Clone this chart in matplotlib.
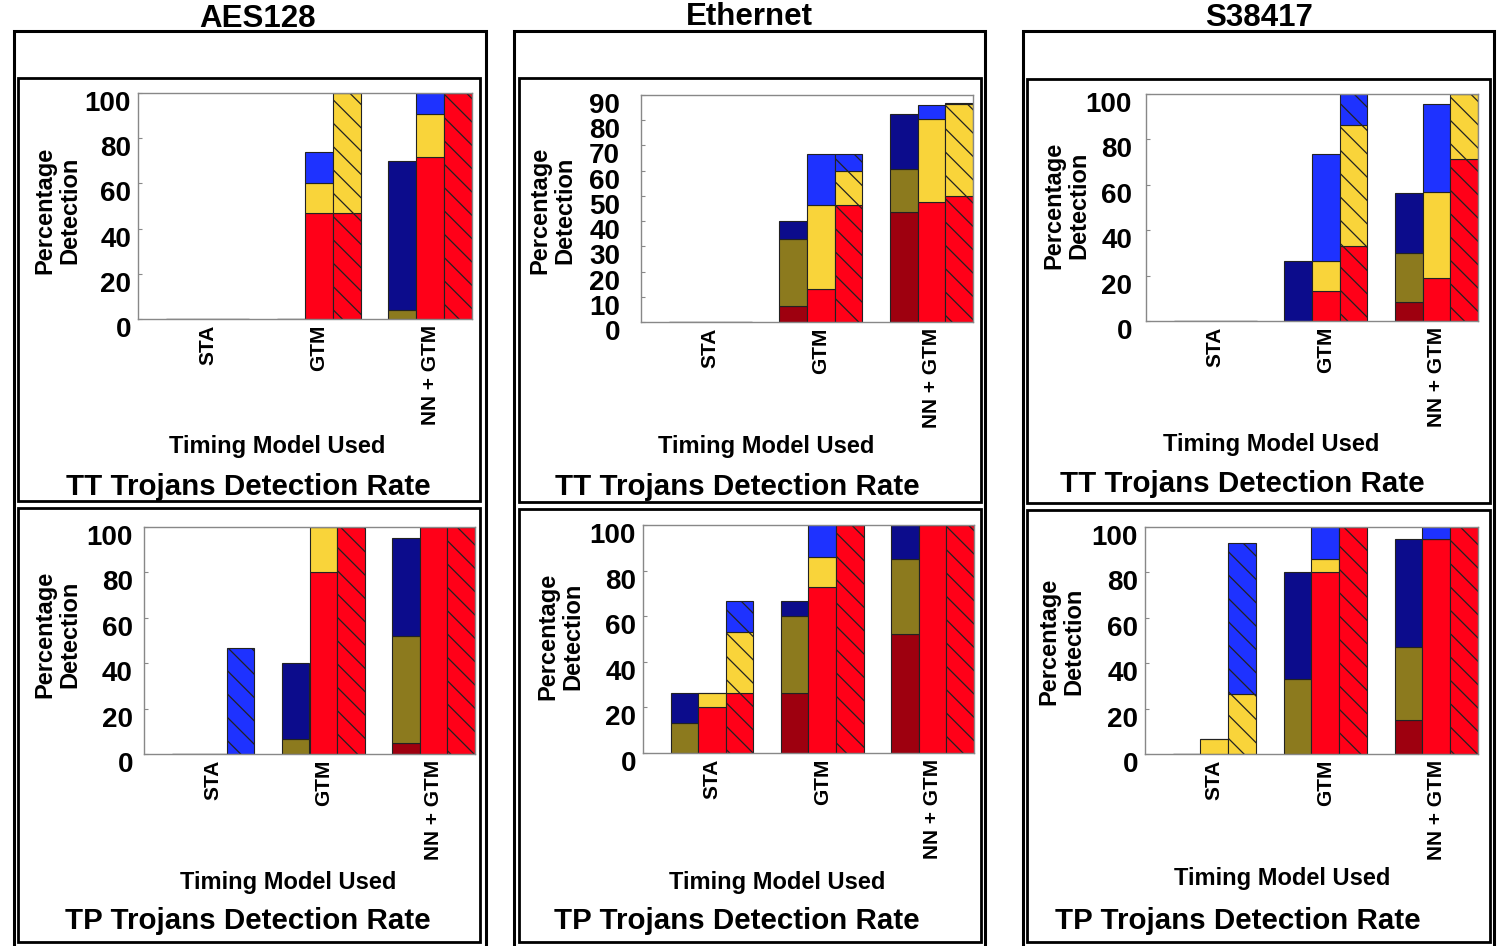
import numpy as np
import matplotlib
matplotlib.use("Agg")
import matplotlib.pyplot as plt
from matplotlib.patches import Rectangle
from matplotlib.transforms import ScaledTranslation

W, H = 1504, 946
DPI = 140
PT = 100 / DPI  # sizes below are written as if dpi were 100

plt.rcParams['font.family'] = ['Liberation Sans', 'DejaVu Sans']
plt.rcParams['font.weight'] = 'bold'
plt.rcParams['hatch.linewidth'] = 0.9 * PT

groups = ["STA", "GTM", "NN + GTM"]
designs = ["AES128", "Ethernet", "S38417"]

# cumulative tops of each stack per group: [red part, gold part, blue part]
aes_tt_dark = [[0, 0, 0], [0, 0, 0], [0, 4, 70]]
aes_tt_solid = [[0, 0, 0], [47, 60, 74], [71.5, 90.5, 100]]
aes_tt_hatch = [[0, 0, 0], [47, 100, 100], [100, 100, 100]]

eth_tt_dark = [[0, 0, 0], [6.5, 33, 40], [43.5, 60.5, 82.5]]
eth_tt_solid = [[0, 0, 0], [13, 46.5, 66.5], [47.5, 80.5, 86]]
eth_tt_hatch = [[0, 0, 0], [46.5, 60, 66.5], [50, 86.5, 87]]

s38_tt_dark = [[0, 0, 0], [0, 0, 26.5], [8.5, 30, 56.5]]
s38_tt_solid = [[0, 0, 0], [13, 26.5, 73.5], [19, 57, 95.5]]
s38_tt_hatch = [[0, 0, 0], [33, 86.5, 100], [71.5, 100, 100]]

aes_tp_dark = [[0, 0, 0], [0, 6.5, 40], [5, 52, 95]]
aes_tp_solid = [[0, 0, 0], [80, 100, 100], [100, 100, 100]]
aes_tp_hatch = [[0, 0, 46.5], [100, 100, 100], [100, 100, 100]]

eth_tp_dark = [[0, 13, 26.5], [26.5, 60, 66.5], [52, 85, 100]]
eth_tp_solid = [[20, 26.5, 26.5], [73, 86, 100], [100, 100, 100]]
eth_tp_hatch = [[26.5, 53, 66.5], [100, 100, 100], [100, 100, 100]]

s38_tp_dark = [[0, 0, 0], [0, 33, 80], [15, 47, 94.5]]
s38_tp_solid = [[0, 6.5, 6.5], [80, 86, 100], [94.5, 94.5, 100]]
s38_tp_hatch = [[0, 26.5, 93], [100, 100, 100], [100, 100, 100]]

dark_colors = ['#9E000F', '#8C7A1E', '#0C0C8C']
light_colors = ['#FF0018', '#F9D43A', '#1E32FF']

fig = plt.figure(figsize=(W / DPI, H / DPI), dpi=DPI)


def fx(x):
    return x / W


def fy(y):
    return 1 - y / H


def box(x0, y0, x1, y1, lw=2.0):
    fig.patches.append(Rectangle((fx(x0), fy(y1)), fx(x1) - fx(x0), fy(y0) - fy(y1),
                                 transform=fig.transFigure, fill=False,
                                 edgecolor='black', linewidth=lw * PT))


def panel(rect, dark, solid, hatch, ymax, ystep, ypad):
    l, t, r, b = rect
    ax = fig.add_axes([fx(l), fy(b), fx(r) - fx(l), fy(t) - fy(b)])
    for k, (data, cols, hat) in enumerate([(dark, dark_colors, None),
                                           (solid, light_colors, None),
                                           (hatch, light_colors, '\\\\')]):
        tops = np.array(data, dtype=float)
        bottoms = np.hstack([np.zeros((3, 1)), tops[:, :-1]])
        heights = tops - bottoms
        xs = 1 + 4 * np.arange(3) + k
        for s in range(3):
            ax.bar(xs, heights[:, s], bottom=bottoms[:, s], width=1, align='edge',
                   color=cols[s], edgecolor='#222222', linewidth=0.8 * PT, hatch=hat)
    ax.set_xlim(0, 12)
    ax.set_ylim(0, ymax)
    ax.set_yticks(np.arange(0, ymax + 1, ystep))
    ax.set_xticks(2.5 + 4 * np.arange(3))
    ax.set_xticklabels(groups, rotation=90, fontsize=15 * PT, fontweight='bold', va='top')
    ax.tick_params(axis='y', direction='in', length=3 * PT, width=0.8 * PT, color='#888888',
                   labelsize=20 * PT, pad=ypad * PT)
    ax.tick_params(axis='x', length=0, pad=4 * PT)
    for sp in ax.spines.values():
        sp.set_color('#888888')
        sp.set_linewidth(1.0 * PT)
    off = ScaledTranslation(0, -8 / DPI, fig.dpi_scale_trans)
    for lab in ax.get_yticklabels():
        lab.set_transform(lab.get_transform() + off)
        lab.set_fontweight('bold')
    return ax


# outer column boxes and inner panel boxes
box(14, 31, 486, 952, 2.2)
box(514, 31, 985, 952, 2.2)
box(1023, 31, 1494, 952, 2.2)
box(18, 78, 480, 501)
box(519, 78, 981, 502)
box(1027, 79, 1490, 503)
box(18, 508, 480, 942)
box(519, 509, 981, 942)
box(1027, 510, 1490, 942)

panel((138, 93, 472, 319), aes_tt_dark, aes_tt_solid, aes_tt_hatch, 100, 20, 5)
panel((641, 95, 973, 322), eth_tt_dark, eth_tt_solid, eth_tt_hatch, 90, 10, 15)
panel((1146, 94, 1478, 321), s38_tt_dark, s38_tt_solid, s38_tt_hatch, 100, 20, 10)
panel((144, 527, 475, 754), aes_tp_dark, aes_tp_solid, aes_tp_hatch, 100, 20, 8)
panel((643, 525, 974, 753), eth_tp_dark, eth_tp_solid, eth_tp_hatch, 100, 20, 5)
panel((1145, 527, 1478, 754), s38_tp_dark, s38_tp_solid, s38_tp_hatch, 100, 20, 5)

# column titles
for x, y, name in [(258, 19, designs[0]), (749, 17, designs[1]), (1259, 18, designs[2])]:
    fig.text(fx(x), fy(y), name, ha='center', va='center', fontsize=22.5 * PT, fontweight='bold')

# y labels
for x, y in [(57, 210), (552, 210), (1066, 205), (57, 634), (560, 636), (1061, 641)]:
    fig.text(fx(x), fy(y), "Percentage\nDetection", rotation=90, ha='center', va='center',
             fontsize=17 * PT, fontweight='bold', linespacing=1.1)

# x labels
for x, y in [(277, 446), (766, 446), (1271, 444), (288, 882), (777, 882), (1282, 879)]:
    fig.text(fx(x), fy(y), "Timing Model Used", ha='center', va='center',
             fontsize=17 * PT, fontweight='bold')

# panel captions
for x, y, txt in [(248, 487, "TT"), (737, 487, "TT"), (1242, 484, "TT"),
                  (248, 921, "TP"), (737, 921, "TP"), (1238, 921, "TP")]:
    fig.text(fx(x), fy(y), txt + " Trojans Detection Rate", ha='center', va='center',
             fontsize=21.2 * PT, fontweight='bold')

fig.savefig("out.png", dpi=DPI)
